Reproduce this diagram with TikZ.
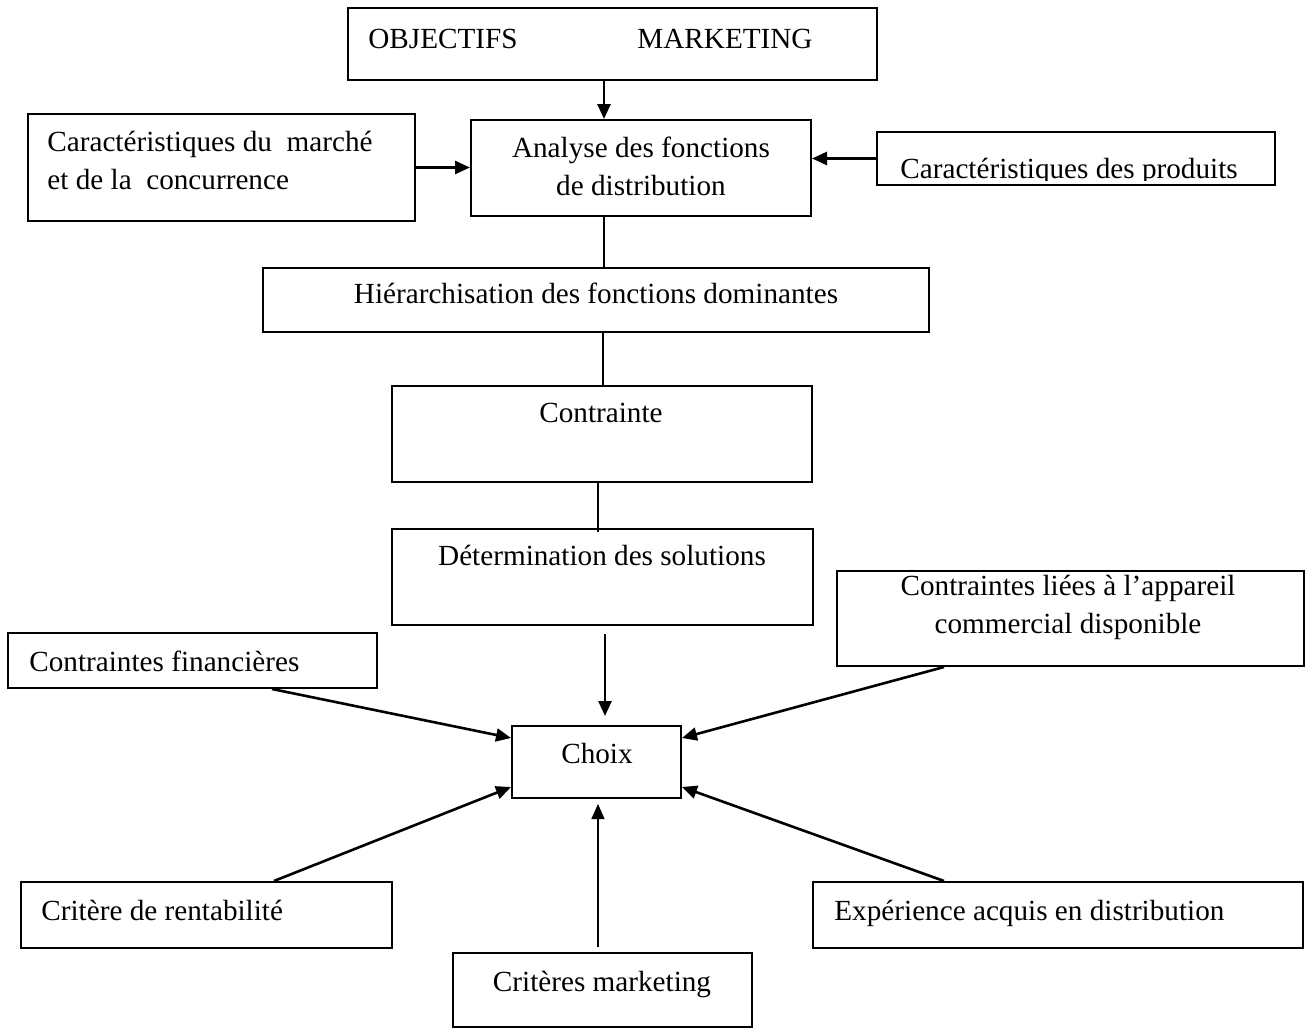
\documentclass[tikz,border=0pt]{standalone}
\usepackage{fontspec}
\setmainfont{Liberation Serif}
\usetikzlibrary{arrows.meta,fit,calc}
\begin{document}
\begin{tikzpicture}[x=0.5pt,y=-0.5pt,
  box/.style={draw, line width=1pt, inner sep=0pt, rectangle},
  txt/.style={font=\fontsize{14.6pt}{19pt}\selectfont, inner sep=0pt},
  arr/.style={line width=1.3pt, -{Triangle[length=7.5pt,width=6.5pt]}},
  thinarr/.style={line width=0.75pt, -{Triangle[length=7.5pt,width=6.5pt]}},
  link/.style={line width=0.75pt},
]
\useasboundingbox (0,0) rectangle (1314,1028);

% ---- boxes ----
\node[box, fit={(348,8) (877,80)}]     (obj) {};
\node[box, fit={(28,114) (415,221)}]   (mar) {};
\node[box, fit={(471,120) (811,216)}]  (ana) {};
\node[box, fit={(877,132) (1275,185)}] (pro) {};
\node[box, fit={(263,268) (929,332)}]  (hie) {};
\node[box, fit={(392,386) (812,482)}]  (con) {};
\node[box, fit={(392,529) (813,625)}]  (det) {};
\node[box, fit={(837,571) (1304,666)}] (lie) {};
\node[box, fit={(8,633) (377,688)}]    (fin) {};
\node[box, fit={(512,726) (681,798)}]  (cho) {};
\node[box, fit={(21,882) (392,948)}]   (ren) {};
\node[box, fit={(813,882) (1303,948)}] (exp) {};
\node[box, fit={(453,953) (752,1027)}] (mkt) {};

% ---- texts ----
\node[txt, anchor=base west] (objA) at (368,48) {OBJECTIFS};
\node[txt, anchor=base west] (objB) at (637,48) {MARKETING};
\node[txt, anchor=base] (anaA) at (641,157) {Analyse des fonctions};
\node[txt, anchor=base] (anaB) at (641,195) {de distribution};
\node[txt, anchor=base west] (marA) at (47,151) {Caractéristiques du\ \ marché};
\node[txt, anchor=base west] (marB) at (47,189) {et de la\ \ concurrence};
\begin{scope}
  \clip (877,132) rectangle (1275,180);
  \node[txt, anchor=base west] (proA) at (900,178) {Caractéristiques des produits};
\end{scope}
\node[txt, anchor=base] (hieA) at (596,303) {Hiérarchisation des fonctions dominantes};
\node[txt, anchor=base] (conA) at (601,422) {Contrainte};
\node[txt, anchor=base] (detA) at (602,565) {Détermination des solutions};
\node[txt, anchor=base] (lieA) at (1068,595) {Contraintes liées à l’appareil};
\node[txt, anchor=base] (lieB) at (1068,633) {commercial disponible};
\node[txt, anchor=base west] (finA) at (29,671) {Contraintes financières};
\node[txt, anchor=base] (choA) at (597,763) {Choix};
\node[txt, anchor=base west] (renA) at (41,920) {Critère de rentabilité};
\node[txt, anchor=base west] (expA) at (834,920) {Expérience acquis en distribution};
\node[txt, anchor=base] (mktA) at (602,991) {Critères marketing};

% ---- connectors ----
\draw[arr] ($(obj.south west)+(257,0)$) coordinate (c1) -- (c1 |- ana.north);
\draw[arr] (mar.east) -- (mar.east -| ana.west);
\draw[arr] (pro.west) -- (pro.west -| ana.east);
\draw[link] ($(ana.south west)+(134,0)$) coordinate (c2) -- (c2 |- hie.north);
\draw[link] ($(hie.south west)+(341,0)$) coordinate (c3) -- (c3 |- con.north);
\draw[link] ($(con.south west)+(207,0)$) coordinate (c4) -- ($(c4 |- det.north)+(0,4)$);
\draw[arr, shorten <=4pt, shorten >=4.5pt] ($(det.south west)+(214,0)$) coordinate (c5) -- (c5 |- cho.north);
\draw[arr] ($(fin.south west)+(265,0)$) -- ($(cho.west)+(0,-24)$);
\draw[arr] ($(lie.south west)+(108,0)$) -- ($(cho.east)+(0,-24)$);
\draw[arr] ($(ren.north west)+(254,0)$) -- ($(cho.west)+(0,25)$);
\draw[arr] ($(exp.north west)+(132,0)$) -- ($(cho.east)+(0,25)$);
\draw[thinarr, shorten <=2.5pt, shorten >=2.5pt] ($(mkt.north west)+(146,0)$) coordinate (c6) -- (c6 |- cho.south);
\end{tikzpicture}
\end{document}
